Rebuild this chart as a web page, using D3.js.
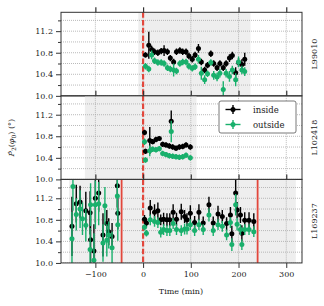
<!DOCTYPE html>
<html>
<head>
<meta charset="utf-8">
<script src="https://cdn.jsdelivr.net/npm/d3@7"></script>
<style>
  body { margin: 0; background: #fff; }
  svg { display: block; font-family: "DejaVu Serif", serif; }
</style>
</head>
<body>
<svg id="chart" width="324" height="306"></svg>
<script>
// observation ids (right hand labels)
const runs = ["L99010", "L102418", "L169237"];

// panel 1 - L99010
const time1 = [5, 12, 18, 24, 31, 38, 44, 51, 57, 64, 70, 77, 83, 90, 96, 103, 109, 116, 122, 129, 135, 142, 148, 155, 161, 168, 174, 181, 187, 194, 200, 207, 213];
const inside1 = [10.76, 10.94, 10.86, 10.82, 10.80, 10.83, 10.84, 10.82, 10.70, 10.63, 10.82, 10.84, 10.82, 10.82, 10.74, 10.68, 10.76, 10.88, 10.63, 10.48, 10.57, 10.78, 10.60, 10.52, 10.60, 10.52, 10.60, 10.70, 10.75, 10.43, 10.62, 10.58, 10.68];
const insideErr1 = [0.05, 0.25, 0.07, 0.06, 0.06, 0.06, 0.1, 0.06, 0.06, 0.06, 0.06, 0.06, 0.06, 0.06, 0.06, 0.06, 0.06, 0.08, 0.06, 0.06, 0.06, 0.06, 0.06, 0.06, 0.06, 0.06, 0.06, 0.07, 0.07, 0.1, 0.08, 0.1, 0.12];
const outside1 = [10.55, 10.50, 10.76, 10.65, 10.62, 10.62, 10.60, 10.52, 10.50, 10.48, 10.46, 10.60, 10.63, 10.63, 10.55, 10.51, 10.54, 10.68, 10.42, 10.30, 10.41, 10.62, 10.38, 10.35, 10.42, 10.12, 10.42, 10.36, 10.48, 10.30, 10.63, 10.48, 10.45];
const outsideErr1 = [0.06, 0.06, 0.08, 0.06, 0.06, 0.06, 0.06, 0.06, 0.06, 0.12, 0.06, 0.06, 0.06, 0.06, 0.06, 0.06, 0.06, 0.08, 0.12, 0.08, 0.06, 0.06, 0.08, 0.08, 0.08, 0.15, 0.08, 0.1, 0.08, 0.12, 0.1, 0.08, 0.08];

// panel 2 - L102418
const time2 = [3, 5, 14, 20, 27, 34, 41, 48, 55, 59, 62, 69, 76, 83, 90, 99];
const inside2 = [10.87, 10.52, 10.72, 10.70, 10.74, 10.76, 10.65, 10.64, 10.62, 11.08, 10.60, 10.58, 10.60, 10.61, 10.64, 10.60];
const insideErr2 = [0.05, 0.05, 0.25, 0.05, 0.05, 0.04, 0.05, 0.05, 0.05, 0.2, 0.05, 0.05, 0.05, 0.05, 0.05, 0.05];
const outside2 = [10.70, 10.36, 10.53, 10.56, 10.55, 10.57, 10.48, 10.46, 10.44, 10.89, 10.43, 10.42, 10.41, 10.42, 10.45, 10.40];
const outsideErr2 = [0.06, 0.05, 0.1, 0.05, 0.05, 0.05, 0.05, 0.05, 0.05, 0.2, 0.05, 0.05, 0.05, 0.05, 0.05, 0.05];

// panel 3 - L169237 (null = no point)
const time3 = [-149, -147, -140, -132, -127, -120, -111, -110, -103, -100, -93, -84, -80, -76, -72, -65, -54, -53,
  3, 7, 15, 24, 31, 37, 43, 50, 56, 63, 70, 80, 87, 92, 99, 108, 117, 126, 138, 147, 157, 166, 175, 183, 186, 194, 197, 204, 207, 213, 222, 232];
const inside3 = [10.68, null, 11.10, 11.13, null, 10.97, 10.93, 10.43, 10.22, 11.20, 11.30, 10.52, null, 10.73, 10.58, 10.49, 11.43, 10.92,
  10.81, 10.74, 11.02, 10.94, 10.97, 10.80, 10.81, 10.80, 10.80, 10.94, 10.81, 10.95, 10.86, 10.80, 10.92, 10.75, 10.94, 10.74, 11.08, 10.74, 10.91, 10.86, 10.73, 10.89, 10.54, 11.30, 10.98, 10.89, 10.55, 10.79, 10.79, 10.77];
const insideErr3 = [0.55, 0, 0.35, 0.3, 0, 0.35, 0.4, 0.5, 0.5, 0.45, 0.35, 0.4, 0, 0.25, 0.25, 0.25, 0.4, 0.3,
  0.08, 0.08, 0.15, 0.15, 0.15, 0.1, 0.12, 0.12, 0.12, 0.15, 0.12, 0.15, 0.12, 0.12, 0.15, 0.12, 0.15, 0.12, 0.15, 0.12, 0.15, 0.12, 0.12, 0.15, 0.15, 0.25, 0.15, 0.15, 0.15, 0.15, 0.15, 0.15];
const outside3 = [10.45, 11.42, 10.90, 11.0, 10.82, 10.70, 10.25, 11.08, 10.05, 11.08, 11.10, 10.37, 11.06, 10.42, 10.52, 10.28, 11.24, 10.71,
  10.66, 10.55, 10.80, 10.77, 10.75, 10.57, 10.62, 10.60, 10.60, 10.73, 10.62, 10.60, 10.63, 10.63, 10.71, 10.60, 10.71, 10.62, 10.89, 10.60, 10.71, 10.68, 10.52, 10.75, 10.34, 11.08, 10.72, 10.62, 10.34, 10.62, 10.62, 10.58];
const outsideErr3 = [0.5, 0.45, 0.3, 0.35, 0.3, 0.3, 0.4, 0.4, 0.5, 0.45, 0.4, 0.35, 0.35, 0.3, 0.25, 0.3, 0.35, 0.3,
  0.06, 0.06, 0.1, 0.1, 0.1, 0.1, 0.1, 0.1, 0.1, 0.1, 0.1, 0.1, 0.1, 0.1, 0.1, 0.1, 0.1, 0.1, 0.12, 0.1, 0.1, 0.1, 0.1, 0.1, 0.12, 0.2, 0.12, 0.1, 0.1, 0.1, 0.1, 0.1];

// grey shaded windows and red marker lines per panel (minutes)
const shade = [[-10, 225], [-122, 112], [-155, 320]];
const redLines = [[], [], [-45, 240]];

const xTicks = [-100, 0, 100, 200, 300];
const yTicks = [10.0, 10.4, 10.8, 11.2];
const yMinor = [10.2, 10.6, 11.0, 11.4];
const series = ["inside", "outside"];

const green = "#19b06c";
const red = "#e2473c";
const xErr = 4; // small horizontal bar on each point

const svg = d3.select("svg#chart");
const top0 = 12.3;
const panelH = 83.55;

const x = d3.scaleLinear().domain([-172, 333]).range([61, 302]);
const [x0, x1] = x.range();

const panels = [
  { time: time1, inside: inside1, insideErr: insideErr1, outside: outside1, outsideErr: outsideErr1 },
  { time: time2, inside: inside2, insideErr: insideErr2, outside: outside2, outsideErr: outsideErr2 },
  { time: time3, inside: inside3, insideErr: insideErr3, outside: outside3, outsideErr: outsideErr3 }
];

// draw one errorbar series
const drawSeries = (g, y, time, vals, errs, color) => {
  const data = time.map((t, i) => ({ t: t, v: vals[i], e: errs[i] })).filter(d => d.v != null);
  const s = g.append("g");
  s.selectAll(".ev").data(data).join("line")
    .attr("x1", d => x(d.t)).attr("x2", d => x(d.t))
    .attr("y1", d => y(d.v - d.e)).attr("y2", d => y(d.v + d.e))
    .attr("stroke", color).attr("stroke-width", 1.4);
  s.selectAll(".eh").data(data).join("line")
    .attr("x1", d => x(d.t - xErr)).attr("x2", d => x(d.t + xErr))
    .attr("y1", d => y(d.v)).attr("y2", d => y(d.v))
    .attr("stroke", color).attr("stroke-width", 1.4);
  s.selectAll("circle").data(data).join("circle")
    .attr("cx", d => x(d.t)).attr("cy", d => y(d.v))
    .attr("r", 2.5).attr("fill", color);
};

panels.forEach((p, i) => {
  const top = top0 + i * panelH;
  const y = d3.scaleLinear().domain([10, 11.55]).range([top + panelH, top]);
  const g = svg.append("g");

  svg.append("clipPath").attr("id", "clip" + i)
    .append("rect").attr("x", x0).attr("y", top).attr("width", x1 - x0).attr("height", panelH);
  const plot = g.append("g").attr("clip-path", `url(#clip${i})`);

  // shaded window
  plot.append("rect")
    .attr("x", x(shade[i][0])).attr("width", x(shade[i][1]) - x(shade[i][0]))
    .attr("y", top).attr("height", panelH)
    .attr("fill", "#eeeeee");

  // dotted grid
  plot.selectAll(".hg").data(yTicks.concat(yMinor)).join("line")
    .attr("x1", x0).attr("x2", x1)
    .attr("y1", d => y(d)).attr("y2", d => y(d))
    .attr("stroke", "#a8a8a8").attr("stroke-width", 0.8).attr("stroke-dasharray", "1,1");
  plot.selectAll(".vg").data(xTicks).join("line")
    .attr("x1", d => x(d)).attr("x2", d => x(d))
    .attr("y1", top).attr("y2", top + panelH)
    .attr("stroke", "#a8a8a8").attr("stroke-width", 0.8).attr("stroke-dasharray", "1,1");

  // solid red lines (only last panel)
  plot.selectAll(".rl").data(redLines[i]).join("line")
    .attr("x1", d => x(d)).attr("x2", d => x(d))
    .attr("y1", top).attr("y2", top + panelH)
    .attr("stroke", red).attr("stroke-width", 1.8);

  // dashed red line at t = 0
  plot.append("line")
    .attr("x1", x(0)).attr("x2", x(0))
    .attr("y1", top).attr("y2", top + panelH)
    .attr("stroke", red).attr("stroke-width", 2.2).attr("stroke-dasharray", "5.5,2.2");

  drawSeries(plot, y, p.time, p.inside, p.insideErr, "#000");
  drawSeries(plot, y, p.time, p.outside, p.outsideErr, green);

  // frame
  g.append("rect")
    .attr("x", x0).attr("y", top).attr("width", x1 - x0).attr("height", panelH)
    .attr("fill", "none").attr("stroke", "#333").attr("stroke-width", 1);

  // y axis majors + minors
  const ya = g.append("g").attr("transform", `translate(${x0},0)`)
    .call(d3.axisLeft(y).tickValues(yTicks).tickSize(5).tickPadding(3).tickFormat(d3.format(".1f")));
  ya.select(".domain").remove();
  ya.selectAll("text").attr("font-size", 8).attr("font-family", "DejaVu Serif").attr("fill", "#222");
  ya.selectAll("line").attr("stroke", "#333");
  const ym = g.append("g").attr("transform", `translate(${x0},0)`)
    .call(d3.axisLeft(y).tickValues(yMinor).tickSize(3).tickFormat(""));
  ym.select(".domain").remove();
  ym.selectAll("line").attr("stroke", "#333");

  // ticks on the top edge of every panel
  const xt = g.append("g").attr("transform", `translate(0,${top})`)
    .call(d3.axisTop(x).tickValues(xTicks).tickSize(5).tickFormat(""));
  xt.select(".domain").remove();
  xt.selectAll("line").attr("stroke", "#333").attr("stroke-width", 1.2);

  // run id on the right
  g.append("text")
    .attr("transform", `translate(315,${top + panelH / 2}) rotate(-90)`)
    .attr("text-anchor", "middle")
    .attr("dominant-baseline", "middle")
    .attr("font-size", 8)
    .attr("fill", "#222")
    .text(runs[i]);

  // bottom axis only for the last panel
  if (i === panels.length - 1) {
    const xb = g.append("g").attr("transform", `translate(0,${top + panelH})`)
      .call(d3.axisBottom(x).tickValues(xTicks).tickSize(5).tickPadding(3));
    xb.select(".domain").remove();
    xb.selectAll("line").attr("stroke", "#333");
    xb.selectAll("text").attr("font-size", 8).attr("font-family", "DejaVu Serif").attr("fill", "#222");
  }

  // legend sits in the middle panel
  if (i === 1) {
    const lg = g.append("g").attr("transform", "translate(219,101)");
    lg.append("rect")
      .attr("width", 77).attr("height", 32).attr("rx", 2)
      .attr("fill", "#fff").attr("stroke", "#555").attr("stroke-width", 0.8);
    series.forEach((name, k) => {
      const c = k === 0 ? "#000" : green;
      const ry = 8.5 + k * 15;
      lg.append("line").attr("x1", 6.5).attr("x2", 21.5).attr("y1", ry).attr("y2", ry)
        .attr("stroke", c).attr("stroke-width", 1.4);
      lg.append("line").attr("x1", 14).attr("x2", 14).attr("y1", ry - 4.5).attr("y2", ry + 4.5)
        .attr("stroke", c).attr("stroke-width", 1.4);
      lg.append("circle").attr("cx", 14).attr("cy", ry).attr("r", 2.5).attr("fill", c);
      lg.append("text").attr("x", 34).attr("y", ry + 3)
        .attr("font-size", 8.5).attr("fill", "#222").text(name);
    });
  }
});

// axis titles
svg.append("text")
  .attr("x", 181).attr("y", 294)
  .attr("text-anchor", "middle")
  .attr("font-size", 8).attr("fill", "#222")
  .text("Time (min)");

const yl = svg.append("text")
  .attr("transform", `translate(14,${top0 + panelH * 1.5}) rotate(-90)`)
  .attr("text-anchor", "middle")
  .attr("font-size", 8).attr("fill", "#222");
yl.append("tspan").attr("font-style", "italic").text("P\u0302");
yl.append("tspan").attr("font-size", 6).attr("dy", 2).text("2");
yl.append("tspan").attr("dy", -2).text("(");
yl.append("tspan").attr("font-style", "italic").text("\u03c6");
yl.append("tspan").attr("font-size", 6).attr("dy", 2).text("0");
yl.append("tspan").attr("dy", -2).text(") (\u00b0)");
</script>
</body>
</html>
